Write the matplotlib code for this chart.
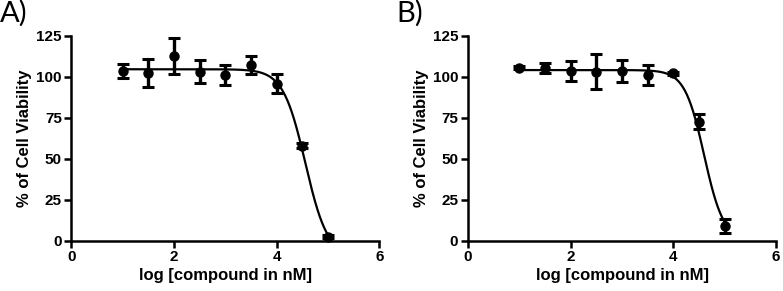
import numpy as np
import matplotlib
matplotlib.use("Agg")
import matplotlib.pyplot as plt

plt.rcParams.update({
    "font.family": ["Liberation Sans", "DejaVu Sans"],
    "font.weight": "bold",
    "axes.linewidth": 1.8,
})

# log concentrations (nM)
log_conc = [1.0, 1.5, 2.0, 2.5, 3.0, 3.5, 4.0, 4.5, 5.0]

# panel A: mean viability and error
viab_a = [103.4, 102.4, 112.6, 103.0, 101.0, 107.0, 95.8, 57.7, 2.4]
err_a = [4.4, 8.5, 10.8, 6.9, 6.1, 5.7, 5.9, 1.5, 1.0]
# panel B
viab_b = [105.4, 105.4, 103.4, 103.0, 103.6, 101.0, 102.0, 72.4, 8.8]
err_b = [0.8, 3.0, 5.9, 10.7, 6.6, 6.0, 0.8, 4.6, 4.2]

# fitted 4PL curves (top, bottom, logIC50, hill slope)
fit_a = (104.5, -10.0, 4.56, 2.0)
fit_b = (104.0, 0.0, 4.60, 2.3)


def four_pl(x, top, bottom, logic50, hill):
    return bottom + (top - bottom) / (1 + 10 ** (hill * (x - logic50)))


fig = plt.figure(figsize=(7.83, 2.91), dpi=100)
panels = [
    ("A)", [0.0913, 0.1735, 0.393, 0.704], viab_a, err_a, fit_a, 0.0),
    ("B)", [0.5977, 0.1735, 0.3934, 0.704], viab_b, err_b, fit_b, 0.506),
]

for tag, rect, viab, err, fit, tx in panels:
    ax = fig.add_axes(rect)
    xs = np.linspace(log_conc[0], log_conc[-1], 300)
    ax.plot(xs, four_pl(xs, *fit), color="black", lw=1.6, clip_on=False, zorder=2)
    ax.errorbar(log_conc, viab, yerr=err, fmt="o", color="black", ms=6.5,
                elinewidth=2.4, capsize=4.3, capthick=2.2, clip_on=False, zorder=3)
    ax.set_xlim(0, 6)
    ax.set_ylim(0, 125)
    ax.set_xticks([0, 2, 4, 6])
    ax.set_yticks([0, 25, 50, 75, 100, 125])
    for s in ("top", "right"):
        ax.spines[s].set_visible(False)
    ax.tick_params(direction="out", length=5, width=1.8, labelsize=11, pad=2)
    for lab in ax.get_xticklabels() + ax.get_yticklabels():
        lab.set_fontweight("bold")
    ax.set_xlabel("log [compound in nM]", fontsize=12, fontweight="bold", labelpad=3)
    ax.set_ylabel("% of Cell Viability", fontsize=12, fontweight="bold", labelpad=3)
    fig.text(tx, 1.0, tag, fontsize=21, fontweight="normal", family="Lato",
             ha="left", va="top")

fig.savefig("out.png", dpi=100)
